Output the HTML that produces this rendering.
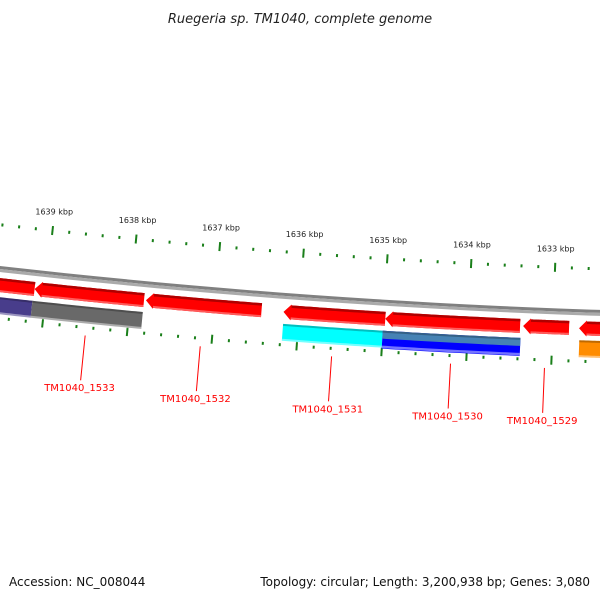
<!DOCTYPE html>
<html><head><meta charset="utf-8"><style>
html,body{margin:0;padding:0;background:#fff;width:600px;height:600px;overflow:hidden}
svg{display:block}
</style></head><body>
<svg id="chart" width="600" height="600" xmlns="http://www.w3.org/2000/svg" font-family="DejaVu Sans, Liberation Sans, sans-serif">
<text x="300" y="23" text-anchor="middle" font-size="13" font-style="italic" fill="#222">Ruegeria sp. TM1040, complete genome</text>
<text x="9" y="586" font-size="12" fill="#111">Accession: NC_008044</text>
<text x="590" y="586" font-size="12" fill="#111" text-anchor="end">Topology: circular; Length: 3,200,938 bp; Genes: 3,080</text>
<g id="layer"></g>
</svg>
<script>
// data
const majorTicks = [1633000,1634000,1635000,1636000,1637000,1638000,1639000];
const tickLabels = ["1633 kbp","1634 kbp","1635 kbp","1636 kbp","1637 kbp","1638 kbp","1639 kbp"];
const geneStarts = [1639137,1637838,1636445,1634980,1633386,1632807,1631900];
const geneEnds   = [1640200,1639137,1637815,1636185,1634980,1633350,1632689];
const cogStarts = [1639147,1637839,1635001,1633375,1631900];
const cogEnds   = [1640200,1639147,1636179,1635001,1632681];
const cogColors = ["#483d8b","#696969","#00ffff","#0000ff","#ff8c00"];
const labelNames = ["TM1040_1533","TM1040_1532","TM1040_1531","TM1040_1530","TM1040_1529"];
const labelGene = [1,2,3,4,5];

const CX=847, CY=-7183, PHI0=0.07296, BP0=1636000, K=1.1266e-5;
const NS="http://www.w3.org/2000/svg";
const layer=document.getElementById('layer');
function P(bp,r){const f=PHI0+(bp-BP0)*K;return [CX-r*Math.sin(f),CY+r*Math.cos(f)];}
function arcPts(a,b,r,n){const p=[];for(let i=0;i<=n;i++){p.push(P(a+(b-a)*i/n,r));}return p;}
function band(a,b,r1,r2){const o=arcPts(a,b,r1,30),i=arcPts(b,a,r2,30);return o.concat(i);}
function poly(pts,fill){const e=document.createElementNS(NS,'polygon');e.setAttribute('points',pts.map(p=>p[0].toFixed(2)+','+p[1].toFixed(2)).join(' '));e.setAttribute('fill',fill);layer.appendChild(e);return e;}
function line(p1,p2,col,w){const e=document.createElementNS(NS,'line');e.setAttribute('x1',p1[0]);e.setAttribute('y1',p1[1]);e.setAttribute('x2',p2[0]);e.setAttribute('y2',p2[1]);e.setAttribute('stroke',col);e.setAttribute('stroke-width',w);layer.appendChild(e);return e;}
function text(p,s,size,col){const e=document.createElementNS(NS,'text');e.setAttribute('x',p[0]);e.setAttribute('y',p[1]);e.setAttribute('font-size',size);e.setAttribute('fill',col);e.setAttribute('text-anchor','middle');e.textContent=s;layer.appendChild(e);return e;}

// backbone
let bb=poly(band(1630000,1641000,7497,7500),'#808080');


let bb2=poly(band(1630000,1641000,7500,7503),'#aaaaaa');



// ticks
for(let bp=1631000;bp<=1641000;bp+=200){
  const major=bp%1000===0;
  const h=major?4.5:1.5;
  let t=line(P(bp,7456-h),P(bp,7456+h),'#1a7f1a',2);
  
  
  let t2=line(P(bp,7549-h),P(bp,7549+h),'#1a7f1a',2);
  
  
}
majorTicks.forEach((bp,i)=>{
  const p=P(bp,7440);
  let t=text([p[0],p[1]],tickLabels[i],8,'#222');
  
  
});

// genes (arrows)
const TIP=90;
geneStarts.forEach((s,i)=>{
  const e=geneEnds[i];
  const top=arcPts(s,e-TIP,7509,30);
  const bot=arcPts(e-TIP,s,7523,30);
  const pts=top.concat([P(e-TIP,7508),P(e,7516),P(e-TIP,7524)]).concat(bot);
  let g=poly(pts,'#ff0000');
  
  
  let d=poly(band(s,e-TIP,7509,7511.5),'#b00000');
  
  
  let l=poly(band(s,e-TIP,7521,7523),'#ff5a5a');
  
  
});

// COG row
cogStarts.forEach((s,i)=>{
  const e=cogEnds[i];
  let g;
  if(cogColors[i]==='#0000ff'){
    g=poly(band(s,e,7528,7546),'#0000ff');
    let st=poly(band(s,e,7528,7536),'#4682b4');
    
    
  } else {
    g=poly(band(s,e,7528,7545),cogColors[i]);
  }
  
  
  let d=poly(band(s,e,7528,7530),'rgba(0,0,0,0.25)');
  
  
  let l=poly(band(s,e,7543,7545.5),'rgba(255,255,255,0.45)');
  
  
});

// labels
labelNames.forEach((n,i)=>{
  const gi=labelGene[i];
  const mid=(geneStarts[gi]+geneEnds[gi])/2;
  let ln=line(P(mid,7557),P(mid,7602),'#ff0000',1);
  
  
  const p=P(mid,7613);
  let t=text([p[0],p[1]],n,10,'#ff0000');
  
  
});
</script>
</body></html>
